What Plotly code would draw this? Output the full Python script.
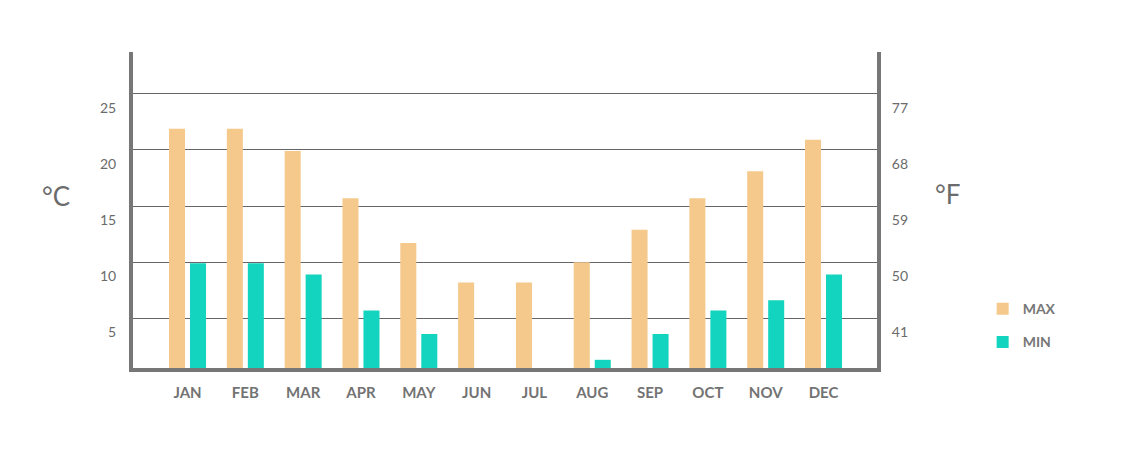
import plotly.graph_objects as go

MONTHS = ['JAN', 'FEB', 'MAR', 'APR', 'MAY', 'JUN', 'JUL', 'AUG', 'SEP', 'OCT', 'NOV', 'DEC']
MAX_C = [21.9, 21.9, 19.9, 15.7, 11.7, 8.2, 8.2, 10.0, 12.9, 15.7, 18.1, 20.9]
MIN_C = [9.9, 9.9, 8.9, 5.7, 3.6, 0, 0, 1.3, 3.6, 5.7, 6.6, 8.9]

C_TICKS = [5, 10, 15, 20, 25]
F_TICKS = [41, 50, 59, 68, 77]

MAX_COLOR = '#F5C88B'
MIN_COLOR = '#13D4BF'
AXIS_COLOR = '#777777'
TEXT_COLOR = '#6b6b6b'

Y_RANGE = [0.57, 28.73]


def to_f(c):
    return c * 1.8 + 32


fig = go.Figure()

fig.add_trace(
    go.Bar(
        x=MONTHS,
        y=MAX_C,
        name='MAX',
        marker={'color': MAX_COLOR, 'line': {'width': 0}},
        width=0.277,
        offset=-0.32,
        legendgroup='max',
    )
)

fig.add_trace(
    go.Bar(
        x=MONTHS,
        y=MIN_C,
        name='MIN',
        marker={'color': MIN_COLOR, 'line': {'width': 0}},
        width=0.277,
        offset=0.043,
        legendgroup='min',
    )
)

# invisible trace so the Fahrenheit axis gets drawn
fig.add_trace(
    go.Scatter(
        x=MONTHS,
        y=[to_f(v) for v in MAX_C],
        yaxis='y2',
        mode='markers',
        marker={'opacity': 0},
        showlegend=False,
        hoverinfo='skip',
    )
)

fig.add_annotation(
    text='°C', xref='paper', yref='paper',
    x=-0.1035, y=0.544, xanchor='center', yanchor='middle',
    showarrow=False,
    font={'size': 26, 'color': TEXT_COLOR},
)
fig.add_annotation(
    text='°F', xref='paper', yref='paper',
    x=1.0954, y=0.551, xanchor='center', yanchor='middle',
    showarrow=False,
    font={'size': 26, 'color': TEXT_COLOR},
)

fig.update_layout(
    width=1126,
    height=460,
    # page body adds 8px, so margins are shifted to compensate
    margin={'l': 125, 'r': 257, 't': 44, 'b': 100},
    paper_bgcolor='white',
    plot_bgcolor='white',
    barmode='overlay',
    font={'family': 'Lato, sans-serif', 'color': TEXT_COLOR},
    showlegend=True,
    legend={
        'x': 1.142, 'y': 0.237, 'xanchor': 'left', 'yanchor': 'top',
        'traceorder': 'grouped', 'tracegroupgap': 12,
        'font': {'size': 14, 'color': '#777777', 'family': 'Lato, sans-serif', 'weight': 'bold'},
    },
    xaxis={
        'type': 'category',
        'range': [-0.943, 11.925],
        'showline': True, 'linecolor': AXIS_COLOR, 'linewidth': 4,
        'showgrid': False, 'ticks': '',
        'ticklabelstandoff': 8,
        'tickfont': {'size': 15, 'color': '#737373', 'weight': 'bold'},
        'fixedrange': True,
    },
    yaxis={
        'range': Y_RANGE,
        'tickvals': C_TICKS,
        'showline': True, 'linecolor': AXIS_COLOR, 'linewidth': 4,
        'showgrid': True, 'gridcolor': '#666666', 'gridwidth': 1,
        'zeroline': False, 'ticks': '',
        'ticklabelshift': 14,
        'ticklabelstandoff': 10,
        'tickfont': {'size': 14, 'color': TEXT_COLOR},
        'fixedrange': True,
    },
    yaxis2={
        'range': [to_f(Y_RANGE[0]), to_f(Y_RANGE[1])],
        'tickvals': F_TICKS,
        'overlaying': 'y', 'side': 'right', 'anchor': 'x',
        'showline': True, 'linecolor': AXIS_COLOR, 'linewidth': 4,
        'showgrid': False, 'zeroline': False, 'ticks': '',
        'ticklabelshift': 14,
        'ticklabelstandoff': 8,
        'tickfont': {'size': 14, 'color': TEXT_COLOR},
        'fixedrange': True,
    },
)

fig.write_html('out.html')
